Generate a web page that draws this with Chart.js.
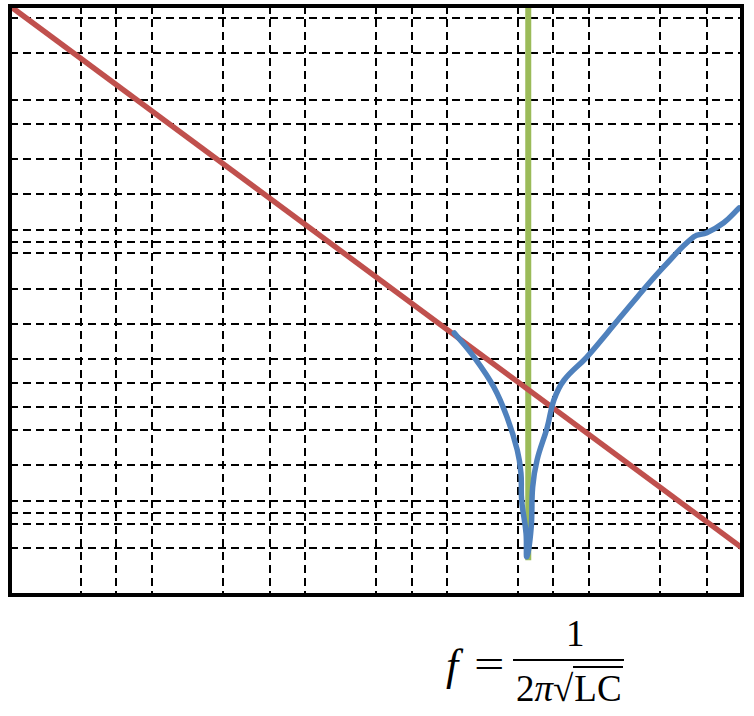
<!DOCTYPE html>
<html>
<head>
<meta charset="utf-8">
<script src="https://cdn.jsdelivr.net/npm/chart.js@4.4.1/dist/chart.umd.min.js"></script>
<style>
  html, body { margin: 0; padding: 0; background: #fff; }
  #wrap { position: relative; width: 754px; height: 716px; }
  #box { position: absolute; left: 0; top: 0; width: 754px; height: 600px; }
  .formula { position: absolute; font-family: "Liberation Serif", "DejaVu Serif", serif; font-size: 37px; color: #000; line-height: 1; }
  .frac-line { position: absolute; left: 513px; top: 659px; width: 111px; height: 2px; background: #000; }
  .rad { border-top: 2px solid #000; padding: 0 1px; }
</style>
</head>
<body>
<div id="wrap">
  <div id="box"><canvas id="resonance"></canvas></div>
  <div class="formula" style="left:446px; top:644px; font-style:italic; font-size:44px;">f</div>
  <div class="formula" style="left:474px; top:645px; font-size:40px; transform:scaleX(1.35); transform-origin:left;">=</div>
  <div class="formula" style="left:566px; top:615px;">1</div>
  <div class="frac-line"></div>
  <div class="formula" style="left:516px; top:670px;">2<i>π</i>√<span class="rad">LC</span></div>
</div>
<script>
// positions des lignes de grille (échelle 0-100)
const xGrid = [9.7, 14.5, 19.4, 29.1, 35.5, 40.3, 50, 54.9, 59.7, 69.4, 74.2, 79.1, 88.8, 95.2];
const yGrid = [98, 92, 84, 80, 74, 68, 62, 60, 58, 52, 46, 40, 36, 32, 28, 22, 16, 14, 12, 8];

// courbe d'impédance (bleu)
const blueX = [60.7, 63.4, 66.1, 67.9, 69.3, 69.8, 69.9, 70.5, 70.6, 71.2, 71.4, 72.0, 73.4, 74.3, 75.7, 78.8, 81.6, 85.7, 89.3, 93.4, 95.2, 97.5, 99.6];
const blueY = [44.5, 40.4, 35.3, 30.2, 24.6, 20.7, 16.1, 10.5, 6.5, 11.5, 18.3, 22.9, 28.5, 33.1, 36.5, 40.4, 44.5, 50.6, 55.7, 60.8, 61.5, 63.2, 65.7];

// droite (rouge)
const redX = [0, 100];
const redY = [100, 8];

// fréquence de résonance (vert)
const greenX = [70.8, 70.8];
const greenY = [100, 5.9];

const toPoints = (xs, ys) => xs.map((x, i) => ({ x: x, y: ys[i] }));

const frame = {
    id: 'frame',
    afterDraw(chart) {
        const a = chart.chartArea;
        const ctx = chart.ctx;
        ctx.save();
        ctx.strokeStyle = '#000';
        ctx.lineWidth = 4;
        ctx.strokeRect(a.left, a.top, a.right - a.left, a.bottom - a.top);
        ctx.restore();
    }
};

new Chart(document.getElementById('resonance'), {
    type: 'line',
    data: {
        datasets: [
            {
                data: toPoints(blueX, blueY),
                borderColor: '#4f81bd',
                borderWidth: 5.5,
                tension: 0.4,
                pointRadius: 0,
                borderCapStyle: 'round'
            },
            {
                data: toPoints(redX, redY),
                borderColor: '#c0504d',
                borderWidth: 5.5,
                pointRadius: 0
            },
            {
                data: toPoints(greenX, greenY),
                borderColor: '#9bbb59',
                borderWidth: 6,
                pointRadius: 0
            }
        ]
    },
    options: {
        responsive: true,
        maintainAspectRatio: false,
        animation: false,
        layout: { padding: { left: 10, top: 6, right: 12, bottom: 5 } },
        plugins: { legend: { display: false }, tooltip: { enabled: false } },
        scales: {
            x: {
                type: 'linear',
                min: 0,
                max: 100,
                afterBuildTicks: axis => { axis.ticks = xGrid.map(v => ({ value: v })); },
                ticks: { display: false },
                grid: { color: '#000', lineWidth: 2, drawTicks: false },
                border: { display: false, dash: [8, 5] }
            },
            y: {
                min: 0,
                max: 100,
                afterBuildTicks: axis => { axis.ticks = yGrid.map(v => ({ value: v })); },
                ticks: { display: false },
                grid: { color: '#000', lineWidth: 2, drawTicks: false },
                border: { display: false, dash: [8, 5] }
            }
        }
    },
    plugins: [frame]
});
</script>
</body>
</html>
